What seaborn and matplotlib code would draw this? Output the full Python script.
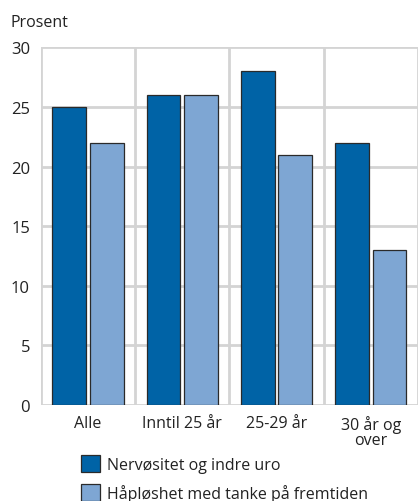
import matplotlib
matplotlib.use("Agg")
import matplotlib.pyplot as plt
import seaborn as sns
import pandas as pd
from matplotlib.patches import Patch

categories = ["Alle", "Inntil 25 år", "25-29 år", "30 år og\nover"]
series_names = ["Nervøsitet og indre uro", "Håpløshet med tanke på fremtiden"]
nervositet = [25, 26, 28, 22]
haploshet = [22, 26, 21, 13]
yticks = [0, 5, 10, 15, 20, 25, 30]

df = pd.DataFrame({
    "kategori": categories * 2,
    "serie": [series_names[0]] * 4 + [series_names[1]] * 4,
    "verdi": nervositet + haploshet,
})

sns.set_theme(style="white")
plt.rcParams["font.family"] = ["Open Sans", "DejaVu Sans"]

colors = ["#0063a6", "#7ea6d3"]
grid_c = "#d4d4d4"

fig = plt.figure(figsize=(4.19, 5.02), dpi=100)
ax = fig.add_axes([0.098, 0.191, 0.899, 0.713])

sns.barplot(data=df, x="kategori", y="verdi", hue="serie", palette=colors,
            saturation=1, width=0.8, gap=0.1, edgecolor="#2a2a2a", linewidth=0.9,
            ax=ax, legend=False, zorder=3)

ax.set_ylim(0, 30)
ax.set_xlim(-0.5, 3.5)
ax.set_yticks(yticks)
ax.set_yticklabels([str(t) for t in yticks], fontsize=12, color="#222222")
ax.tick_params(axis="x", labelsize=11.5, colors="#222222", length=0, pad=7)
ax.tick_params(axis="y", length=0, pad=8)
for t in ax.get_xticklabels():
    t.set_linespacing(0.95)
ax.set_xlabel("")
ax.set_ylabel("")

for y in yticks:
    ax.axhline(y, color=grid_c, lw=2, zorder=1)
for x in [-0.5, 0.5, 1.5, 2.5, 3.5]:
    ax.axvline(x, color=grid_c, lw=2, zorder=1)
for s in ax.spines.values():
    s.set_visible(False)

fig.text(0.025, 0.955, "Prosent", fontsize=11.5, color="#222222", va="center")

handles = [Patch(facecolor=c, edgecolor="#2a2a2a", linewidth=0.9) for c in colors]
fig.legend(handles, series_names, loc="upper left", bbox_to_anchor=(0.193, 0.091),
           frameon=False, fontsize=11.5, handlelength=1.2, handleheight=1.2,
           handletextpad=0.45, labelspacing=0.7, borderaxespad=0, borderpad=0,
           labelcolor="#222222")

fig.savefig("out.png", dpi=100)
